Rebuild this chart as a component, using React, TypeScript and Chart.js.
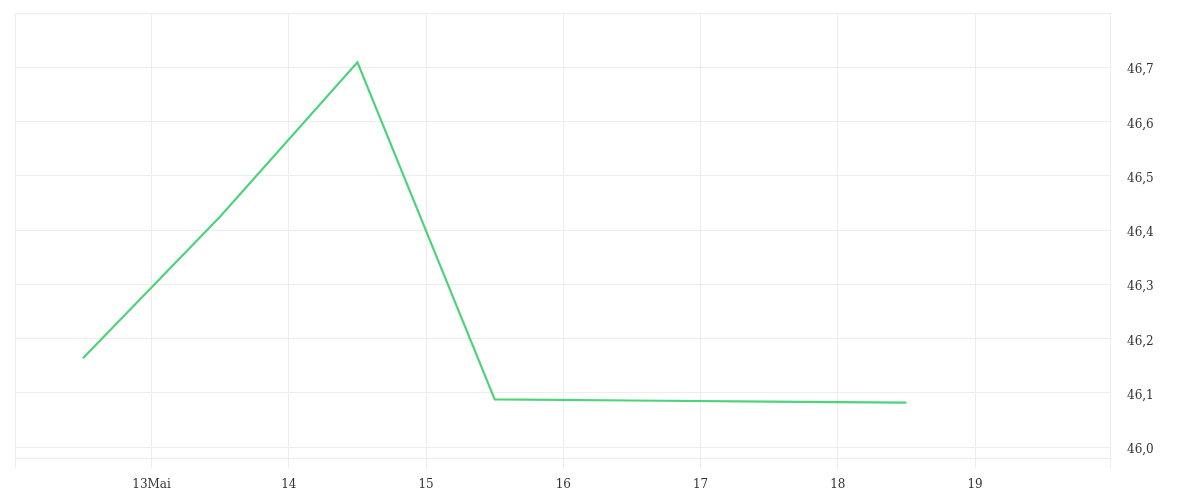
import { useEffect, useRef } from 'react'
import { Chart, registerables } from 'chart.js'

Chart.register(...registerables)

// x positions are days of May (12.5 = midday on the 12th)
const xValues = [12.5, 13.5, 14.5, 15.5, 16.5, 17.5, 18.5]
const yValues = [46.164, 46.425, 46.709, 46.088, 46.086, 46.084, 46.082]

const xMin = 12.005
const xMax = 19.983
const xTicks = [xMin, 13, 14, 15, 16, 17, 18, 19, xMax]
const xTickLabels = ['', '13Mai', '14', '15', '16', '17', '18', '19', '']

const yTicks = [45.98, 46.0, 46.1, 46.2, 46.3, 46.4, 46.5, 46.6, 46.7, 46.8]
const yTickLabels = ['', '46,0', '46,1', '46,2', '46,3', '46,4', '46,5', '46,6', '46,7', '']

const gridColor = '#ededed'
const textColor = '#333333'

export default function App() {
  const canvasRef = useRef<HTMLCanvasElement>(null)

  useEffect(() => {
    if (!canvasRef.current) return
    const chart = new Chart(canvasRef.current, {
      type: 'line',
      data: {
        datasets: [
          {
            data: xValues.map((x, i) => ({ x, y: yValues[i] })),
            borderColor: '#4dd47b',
            borderWidth: 2.2,
            pointRadius: 0,
            tension: 0,
            fill: false,
          },
        ],
      },
      options: {
        animation: false,
        responsive: true,
        maintainAspectRatio: false,
        layout: { padding: { left: 7, top: 5, right: 0, bottom: 0 } },
        plugins: {
          legend: { display: false },
          tooltip: { enabled: false },
        },
        scales: {
          x: {
            type: 'linear',
            min: xMin,
            max: xMax,
            afterBuildTicks: (scale: any) => {
              scale.ticks = xTicks.map((v) => ({ value: v }))
            },
            afterFit: (scale: any) => {
              scale.height = 34
              scale.paddingLeft = 0
              scale.paddingRight = 0
            },
            ticks: {
              color: textColor,
              padding: 10,
              maxRotation: 0,
              autoSkip: false,
              font: { family: 'DejaVu Serif', size: 12 },
              callback: (_v: any, i: number) => xTickLabels[i],
            },
            grid: { color: gridColor, tickLength: 10, drawTicks: true },
            border: { color: gridColor },
          },
          y: {
            position: 'right',
            min: 45.98,
            max: 46.8,
            afterBuildTicks: (scale: any) => {
              scale.ticks = yTicks.map((v) => ({ value: v }))
            },
            afterFit: (scale: any) => {
              scale.width = 82
              scale.paddingTop = 0
              scale.paddingBottom = 0
            },
            ticks: {
              color: textColor,
              padding: 17,
              labelOffset: 3,
              autoSkip: false,
              font: { family: 'DejaVu Serif', size: 12 },
              callback: (_v: any, i: number) => yTickLabels[i],
            },
            grid: { color: gridColor, drawTicks: false },
            border: { color: gridColor },
          },
        },
      },
    })
    return () => chart.destroy()
  }, [])

  return (
    <div style={{ width: '100%', height: 484 }}>
      <canvas ref={canvasRef}></canvas>
    </div>
  )
}
